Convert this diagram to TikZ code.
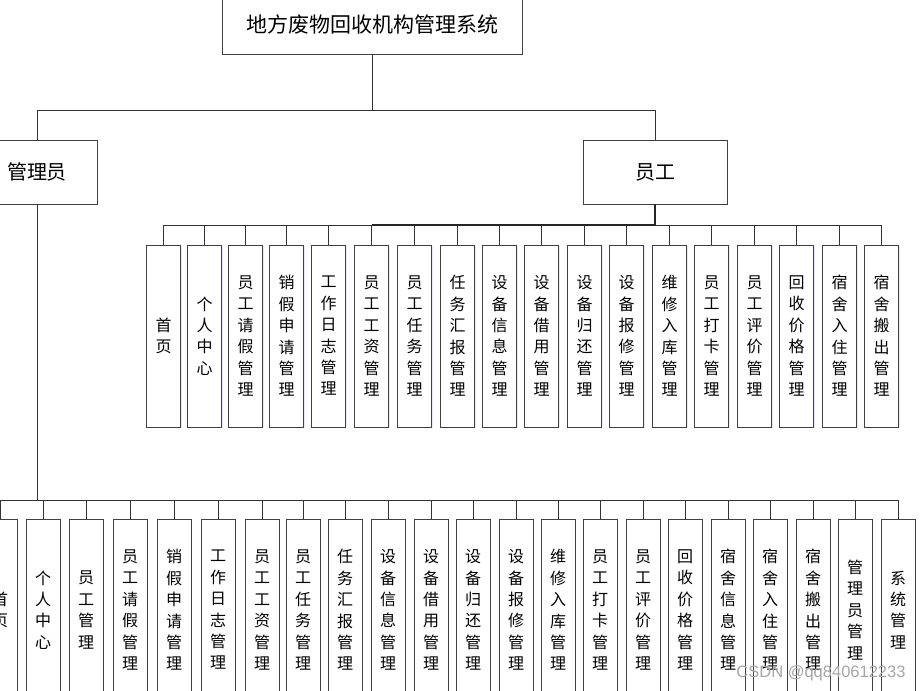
\documentclass[tikz,border=0pt]{standalone}
\usepackage{fontspec}
\newfontfamily\cjk{Noto Sans CJK SC}
\newfontfamily\wmfont{Liberation Sans}
\usetikzlibrary{shadows}
\tikzset{
  box/.style={draw=black!75, line width=0.8pt, fill=white,
    drop shadow={shadow xshift=1.2pt, shadow yshift=-1.2pt, fill=blue!30, opacity=0.3}},
  col/.style={box, minimum width=34pt, minimum height=182pt, inner sep=0pt, align=center,
    font=\cjk\fontsize{16pt}{21.4pt}\selectfont},
  head/.style={box, minimum height=64pt, inner sep=0pt, font=\cjk\fontsize{20pt}{24pt}\selectfont},
  conn/.style={draw=black!80, line width=0.8pt},
}
\begin{document}
\begin{tikzpicture}[x=1pt,y=-1pt]
\useasboundingbox (0,0) rectangle (922,691);
\node[box, minimum width=300pt, minimum height=58pt, inner sep=0pt,
  font=\cjk\fontsize{21pt}{24pt}\selectfont] (root) at (372,25) {地方废物回收机构管理系统};
\node[head, minimum width=120pt] (admin) at (37,172) {管理员};
\node[head, minimum width=144pt] (emp) at (655,172) {员工};
\draw[conn] (root.south) -- ++(0,56) -| (admin.north);
\draw[conn] (root.south) -- ++(0,56) -| (emp.north);
% employee row
\foreach \x/\t [count=\i] in {
  163.5/{首\\页}, 204.5/{个\\人\\中\\心}, 245.5/{员\\工\\请\\假\\管\\理},
  286.5/{销\\假\\申\\请\\管\\理}, 328.5/{工\\作\\日\\志\\管\\理}, 371.5/{员\\工\\工\\资\\管\\理},
  414.5/{员\\工\\任\\务\\管\\理}, 457.5/{任\\务\\汇\\报\\管\\理}, 499.5/{设\\备\\信\\息\\管\\理},
  541.5/{设\\备\\借\\用\\管\\理}, 584.5/{设\\备\\归\\还\\管\\理}, 626.5/{设\\备\\报\\修\\管\\理},
  669.5/{维\\修\\入\\库\\管\\理}, 711.5/{员\\工\\打\\卡\\管\\理}, 754.5/{员\\工\\评\\价\\管\\理},
  796.5/{回\\收\\价\\格\\管\\理}, 839.5/{宿\\舍\\入\\住\\管\\理}, 881.5/{宿\\舍\\搬\\出\\管\\理}}
  \node[col] (e\i) at (\x,336) {\t};
\foreach \i in {1,...,18}
  \draw[conn] (emp.south) -- ++(0,21) -| (e\i.north);
\coordinate (eb) at (655,225);
\draw[line width=1.6pt, draw=black!85] (emp.south) -- (eb) -- (e6.north |- eb);
% admin row
\foreach \x/\t [count=\i] in {
  0/{首\\页}, 43/{个\\人\\中\\心}, 86/{员\\工\\管\\理}, 130/{员\\工\\请\\假\\管\\理},
  174/{销\\假\\申\\请\\管\\理}, 218/{工\\作\\日\\志\\管\\理}, 262/{员\\工\\工\\资\\管\\理},
  303/{员\\工\\任\\务\\管\\理}, 345/{任\\务\\汇\\报\\管\\理}, 388/{设\\备\\信\\息\\管\\理},
  431/{设\\备\\借\\用\\管\\理}, 473/{设\\备\\归\\还\\管\\理}, 516/{设\\备\\报\\修\\管\\理},
  558/{维\\修\\入\\库\\管\\理}, 600/{员\\工\\打\\卡\\管\\理}, 643/{员\\工\\评\\价\\管\\理},
  685/{回\\收\\价\\格\\管\\理}, 728/{宿\\舍\\信\\息\\管\\理}, 770/{宿\\舍\\入\\住\\管\\理},
  813/{宿\\舍\\搬\\出\\管\\理}, 855/{管\\理\\员\\管\\理}, 898/{系\\统\\管\\理}}
  \node[col] (a\i) at (\x,610) {\t};
\foreach \i in {1,...,22}
  \draw[conn] (admin.south) -- ++(0,296) -| (a\i.north);
\node[font=\wmfont\fontsize{16.5pt}{18pt}\selectfont, text=black!35, inner sep=0pt] (wm) at (821,673) {CSDN @qq840612233};
\end{tikzpicture}
\end{document}
